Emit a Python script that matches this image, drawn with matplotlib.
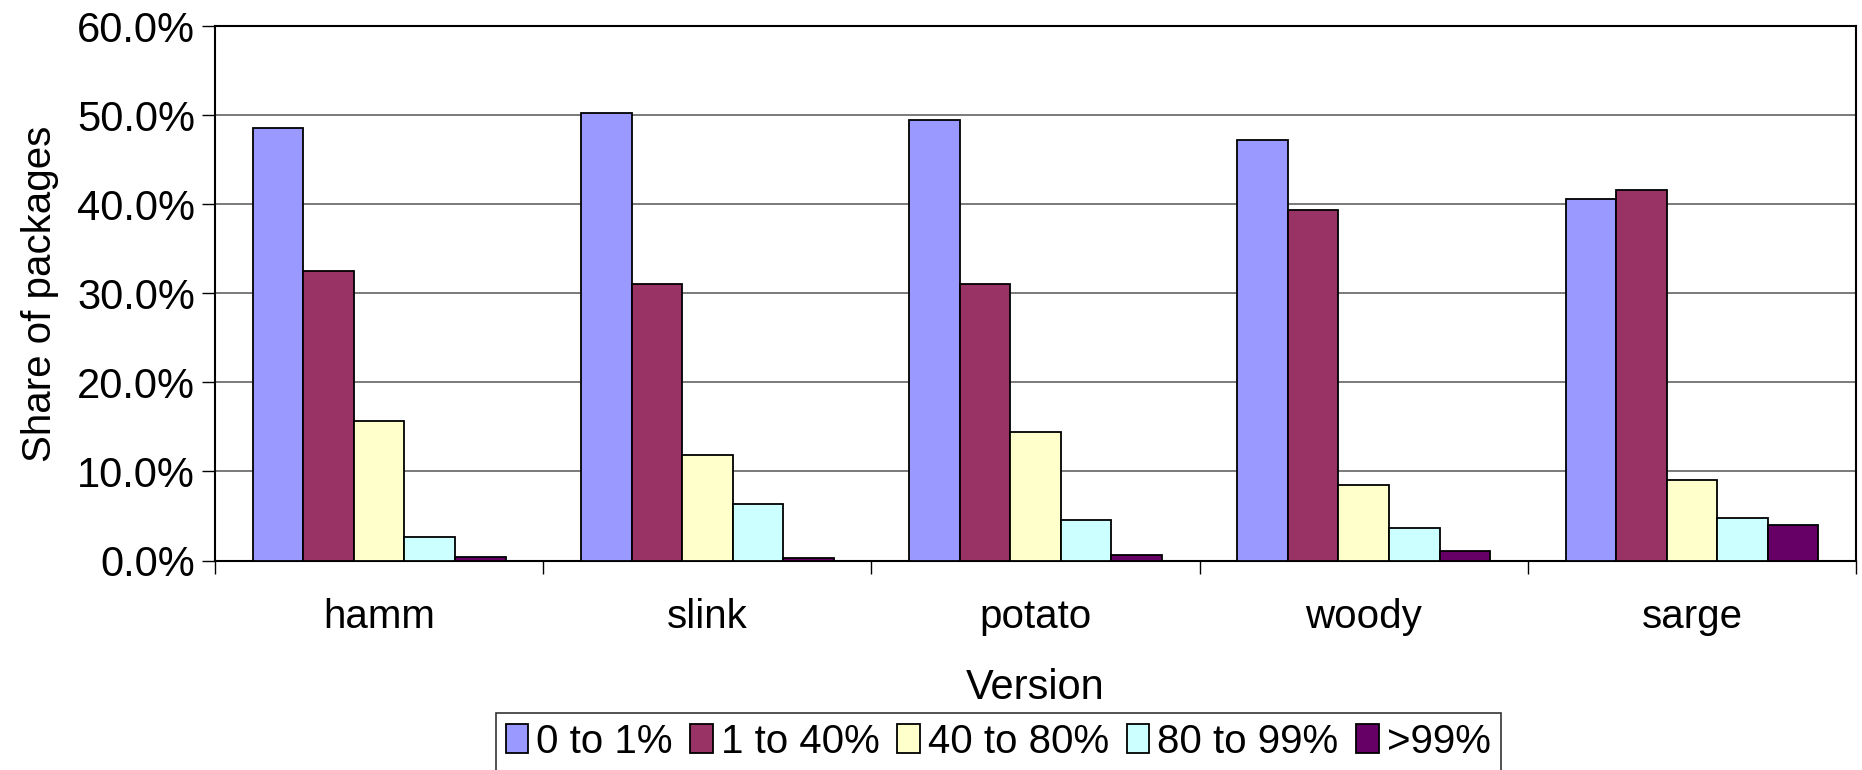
import numpy as np
import matplotlib
matplotlib.use("Agg")
import matplotlib.pyplot as plt
from matplotlib.ticker import FuncFormatter, FixedLocator

plt.rcParams['font.family'] = ['Liberation Sans', 'DejaVu Sans']

versions = ["hamm", "slink", "potato", "woody", "sarge"]
ranges = ["0 to 1%", "1 to 40%", "40 to 80%", "80 to 99%", ">99%"]

# share of packages (%) per version, one list per range
share_0_1 = [48.6, 50.3, 49.5, 47.2, 40.6]
share_1_40 = [32.5, 31.0, 31.0, 39.4, 41.6]
share_40_80 = [15.7, 11.9, 14.4, 8.5, 9.0]
share_80_99 = [2.7, 6.4, 4.5, 3.7, 4.8]
share_99 = [0.4, 0.3, 0.6, 1.1, 4.0]

series = [share_0_1, share_1_40, share_40_80, share_80_99, share_99]
colors = ["#9999FF", "#993366", "#FFFFCC", "#CCFFFF", "#660066"]

fig = plt.figure(figsize=(18.62, 7.70), dpi=100)
ax = fig.add_axes([0.1155, 0.272, 0.8813, 0.694])

n = len(series)
group_w = 0.77
bar_w = group_w / n
centers = np.arange(len(versions)) + 0.5
for k, (vals, col, lab) in enumerate(zip(series, colors, ranges)):
    xs = centers - group_w / 2 + bar_w * (k + 0.5)
    ax.bar(xs, np.array(vals) / 100, width=bar_w, color=col,
           edgecolor="black", linewidth=1.3, label=lab, zorder=3)

ax.set_xlim(0, len(versions))
ax.set_ylim(0, 0.6)
ax.set_yticks(np.arange(0, 0.61, 0.1))
ax.yaxis.set_major_formatter(FuncFormatter(lambda v, _: f"{v * 100:.1f}%"))
ax.yaxis.grid(True, color="#707070", linewidth=1.3, zorder=0)

# category boundaries get the tick marks, names sit in between
ax.xaxis.set_major_locator(FixedLocator(np.arange(len(versions) + 1)))
ax.xaxis.set_minor_locator(FixedLocator(centers))
ax.set_xticklabels([], minor=False)
ax.set_xticklabels(versions, minor=True)
ax.tick_params(axis="x", which="major", length=9.5, width=1, direction="out")
ax.tick_params(axis="x", which="minor", length=0, pad=27, labelsize=29)
ax.tick_params(axis="y", length=9.5, width=1, direction="out", labelsize=30, pad=5)

for s in ax.spines.values():
    s.set_linewidth(1.5)
    s.set_color("black")

ax.set_xlabel("Version", fontsize=30, labelpad=23)
ax.set_ylabel("Share of packages", fontsize=29, labelpad=13)

leg = fig.legend(loc="upper center", bbox_to_anchor=(0.536, 0.0745), ncol=5,
                 fontsize=29, frameon=True, fancybox=False, edgecolor="black",
                 handlelength=0.55, handleheight=0.75, handletextpad=0.2,
                 columnspacing=0.45, borderpad=0.25, borderaxespad=0)
leg.get_frame().set_linewidth(1.2)

fig.savefig("out.png", dpi=100)
